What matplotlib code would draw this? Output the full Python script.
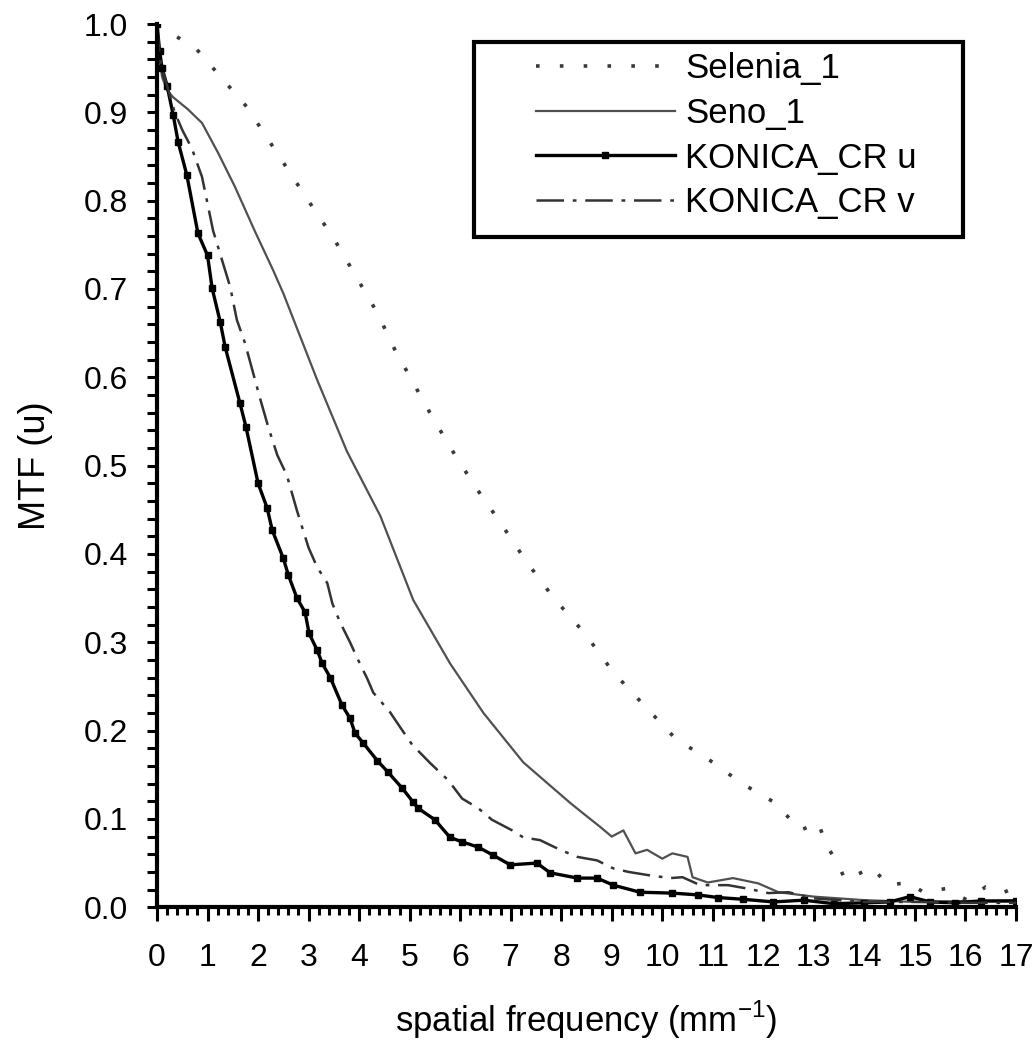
import numpy as np
import matplotlib.pyplot as plt
from matplotlib.ticker import MultipleLocator
from matplotlib.patches import Rectangle

plt.rcParams['font.family'] = ['Liberation Sans', 'DejaVu Sans']
plt.rcParams['mathtext.fontset'] = 'custom'
plt.rcParams['mathtext.rm'] = 'Liberation Sans'

# MTF curves (spatial frequency in mm^-1)
sel_x = [0, 0.79, 1.78, 2.97, 3.49, 4.36, 4.71, 5.39, 5.80, 6.30, 6.79, 7.29, 7.84,
         8.48, 9.03, 9.70, 10.26, 10.95, 11.58, 12.24, 12.73, 13.09, 13.23, 13.47,
         13.62, 14.16, 14.46, 14.87, 15.17, 15.6, 16.04, 16.4, 16.73, 17.0]
sel_y = [1.0, 0.971, 0.906, 0.802, 0.758, 0.673, 0.631, 0.561, 0.521, 0.476, 0.436,
         0.393, 0.351, 0.309, 0.266, 0.225, 0.191, 0.166, 0.140, 0.118, 0.087, 0.096,
         0.072, 0.050, 0.031, 0.045, 0.025, 0.028, 0.017, 0.021, 0.008, 0.023, 0.016,
         0.023]

seno_x = [0, 0.05, 0.1, 0.2, 0.32, 0.6, 0.89, 1.21, 1.54, 1.94, 2.30, 2.50, 3.17,
          3.76, 4.42, 5.07, 5.80, 6.46, 7.25, 8.18, 8.44, 8.77, 9.0, 9.23, 9.47, 9.7,
          10.0, 10.2, 10.5, 10.6, 10.9, 11.4, 11.9, 12.3, 13.0, 14.0, 15.0, 16.0, 17.0]
seno_y = [1.0, 0.96, 0.94, 0.925, 0.917, 0.904, 0.888, 0.854, 0.816, 0.765, 0.721,
          0.695, 0.597, 0.516, 0.443, 0.348, 0.276, 0.220, 0.164, 0.118, 0.106, 0.091,
          0.080, 0.087, 0.061, 0.065, 0.055, 0.061, 0.057, 0.034, 0.028, 0.033, 0.027,
          0.017, 0.012, 0.008, 0.006, 0.007, 0.008]

cru_x = [0, 0.05, 0.1, 0.2, 0.32, 0.42, 0.59, 0.81, 1.0, 1.09, 1.25, 1.35, 1.64, 1.76,
         2.0, 2.18, 2.28, 2.50, 2.60, 2.77, 2.93, 3.01, 3.17, 3.27, 3.43, 3.66, 3.82,
         3.92, 4.08, 4.36, 4.57, 4.85, 5.07, 5.17, 5.50, 5.80, 6.04, 6.36, 6.65, 6.99,
         7.52, 7.78, 8.32, 8.71, 9.03, 9.56, 10.2, 10.7, 11.1, 11.6, 12.2, 12.8, 13.4,
         14.0, 14.5, 14.9, 15.3, 15.8, 16.3, 17.0]
cru_y = [1.0, 0.97, 0.95, 0.93, 0.897, 0.866, 0.829, 0.763, 0.738, 0.701, 0.663, 0.634,
         0.571, 0.544, 0.480, 0.452, 0.427, 0.395, 0.376, 0.350, 0.334, 0.310, 0.291,
         0.276, 0.260, 0.229, 0.214, 0.197, 0.186, 0.166, 0.153, 0.135, 0.119, 0.112,
         0.099, 0.079, 0.074, 0.068, 0.059, 0.048, 0.050, 0.039, 0.033, 0.033, 0.025,
         0.017, 0.016, 0.014, 0.011, 0.009, 0.006, 0.008, 0.004, 0.005, 0.006, 0.012,
         0.006, 0.005, 0.007, 0.007]

crv_x = [0, 0.05, 0.1, 0.2, 0.35, 0.5, 0.69, 0.89, 1.11, 1.45, 1.58, 1.74, 2.04, 2.20,
         2.38, 2.57, 2.77, 2.89, 3.0, 3.17, 3.37, 3.47, 3.62, 3.82, 3.98, 4.16, 4.28,
         4.61, 4.81, 5.05, 5.41, 5.76, 6.04, 6.36, 6.63, 7.03, 7.25, 7.58, 7.98, 8.32,
         8.71, 9.03, 9.33, 9.76, 10.16, 10.4, 10.75, 11.3, 11.7, 12.1, 12.5, 13.0, 13.5,
         14.0, 15.0, 16.0, 17.0]
crv_y = [1.0, 0.965, 0.95, 0.93, 0.90, 0.88, 0.859, 0.827, 0.766, 0.702, 0.665, 0.639,
         0.576, 0.544, 0.512, 0.489, 0.449, 0.427, 0.407, 0.385, 0.367, 0.344, 0.323,
         0.300, 0.280, 0.259, 0.243, 0.221, 0.204, 0.184, 0.163, 0.144, 0.123, 0.112,
         0.099, 0.087, 0.079, 0.076, 0.065, 0.057, 0.053, 0.044, 0.040, 0.036, 0.033,
         0.034, 0.025, 0.025, 0.021, 0.016, 0.017, 0.010, 0.008, 0.006, 0.006, 0.005,
         0.005]

x_ticks = np.arange(0, 18)
y_ticks = np.arange(0, 1.01, 0.1)

fig = plt.figure(figsize=(10.33, 10.44), dpi=100)
ax = fig.add_axes([0.152, 0.131, 0.8315, 0.846])

ax.plot(sel_x, sel_y, color='#3a3a3a', lw=2.6, linestyle=(0, (1, 5.6)), label='Selenia_1')
ax.plot(seno_x, seno_y, color='#505050', lw=1.6, label='Seno_1')
ax.plot(cru_x, cru_y, color='black', lw=2.4, marker='s', ms=4.5, label='KONICA_CR u')
ax.plot(crv_x, crv_y, color='#333333', lw=1.8, linestyle=(0, (11, 3.5, 1.5, 3.5)),
        label='KONICA_CR v')

ax.set_xlim(0, 17)
ax.set_ylim(0, 1.0)
ax.set_xticks(x_ticks)
ax.set_yticks(y_ticks)
ax.set_yticklabels([f'{v:.1f}' for v in y_ticks])
ax.xaxis.set_minor_locator(MultipleLocator(0.2))
ax.yaxis.set_minor_locator(MultipleLocator(0.02))

for s in ['top', 'right']:
    ax.spines[s].set_visible(False)
for s in ['left', 'bottom']:
    ax.spines[s].set_linewidth(3)

ax.tick_params(axis='both', which='major', labelsize=23, width=2.2, direction='out')
ax.tick_params(axis='x', which='major', length=10, pad=16)
ax.tick_params(axis='x', which='minor', length=6, width=2.2)
ax.tick_params(axis='y', which='both', length=7, width=2.2, pad=14)

ax.set_xlabel('spatial frequency (mm$^{-1}$)', fontsize=25, labelpad=18)
ax.set_ylabel('MTF (u)', fontsize=26, labelpad=22)

# legend entries without frame, boxed by a separate rectangle
leg = ax.legend(loc='upper left', bbox_to_anchor=(536 / 1033, 1 - 52 / 1044),
                bbox_transform=fig.transFigure, fontsize=25, frameon=False,
                handlelength=4.0, handletextpad=0.3, labelspacing=0.34,
                borderpad=0, borderaxespad=0, numpoints=1)
fig.patches.append(Rectangle((474 / 1033, 1 - 237 / 1044), 489 / 1033, 195 / 1044,
                             transform=fig.transFigure, fill=False,
                             edgecolor='black', lw=3))

fig.savefig('out.png', dpi=100)
